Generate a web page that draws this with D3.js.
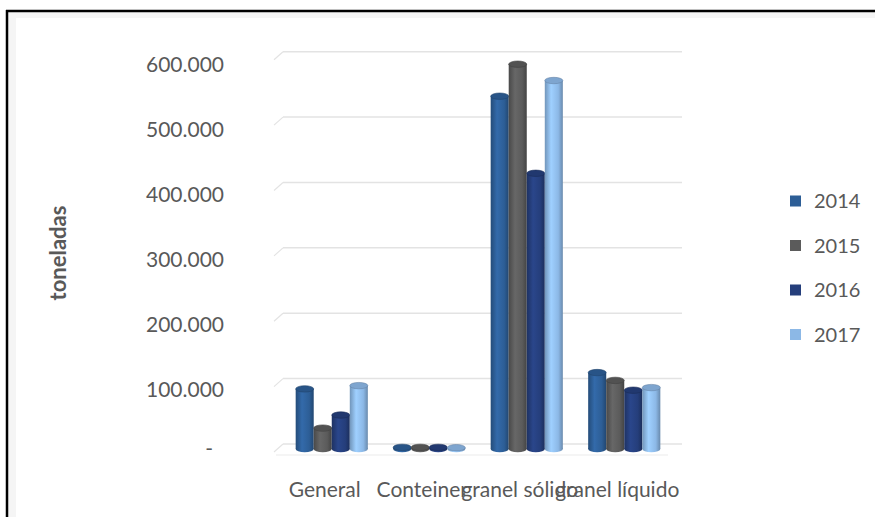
<!DOCTYPE html>
<html>
<head>
<meta charset="utf-8">
<script src="https://cdn.jsdelivr.net/npm/d3@7"></script>
<style>
  body { margin: 0; background: #fff; }
  svg { display: block; font-family: Lato, "Open Sans", sans-serif; }
</style>
</head>
<body>
<div class="canvas"></div>
<script>
const categories = ['General', 'Conteiner', 'granel sólido', 'granel líquido'];
const years = ['2014', '2015', '2016', '2017'];
const values2014 = [92000, 2500, 540000, 117000];
const values2015 = [32000, 2500, 589000, 105000];
const values2016 = [52000, 2500, 422000, 90000];
const values2017 = [97000, 2000, 564000, 94000];
const yTicks = [0, 100000, 200000, 300000, 400000, 500000, 600000];
const yTickLabels = ['-', '100.000', '200.000', '300.000', '400.000', '500.000', '600.000'];

const seriesValues = [values2014, values2015, values2016, values2017];
const colors = ['#2d5e96', '#5b5b5b', '#253e7b', '#8cb8e6'];

const width = 875, height = 517;

const svg = d3.select('.canvas')
  .append('svg')
    .attr('width', width)
    .attr('height', height);

// frame
svg.append('rect').attr('x', 8).attr('y', 12).attr('width', 8).attr('height', height).attr('fill', '#f5f5f5');
svg.append('rect').attr('x', 8).attr('y', 12).attr('width', width).attr('height', 6).attr('fill', '#f5f5f5');
svg.append('line').attr('x1', 6).attr('x2', width).attr('y1', 11).attr('y2', 11)
  .attr('stroke', '#000').attr('stroke-width', 2.5);
svg.append('line').attr('x1', 7).attr('x2', 7).attr('y1', 10).attr('y2', height)
  .attr('stroke', '#000').attr('stroke-width', 2.5);

// scales: back wall (grid), bars, front labels
const yGrid = d3.scaleLinear().domain([0, 600000]).range([444, 51.7]);
const yBar = d3.scaleLinear().domain([0, 600000]).range([449, 57]);
const yLabel = d3.scaleLinear().domain([0, 600000]).range([455, 65]);

const x = d3.scaleBand()
  .domain(categories)
  .range([283, 673])
  .paddingInner(0.26)
  .paddingOuter(0.13);

const x1 = d3.scaleBand()
  .domain(years)
  .range([0, x.bandwidth()]);

// gridlines
const grid = svg.append('g');
yTicks.forEach(t => {
  grid.append('line')
    .attr('x1', 283).attr('x2', 682)
    .attr('y1', yGrid(t)).attr('y2', yGrid(t))
    .attr('stroke', '#e3e3e3').attr('stroke-width', 1.5);
  grid.append('line')
    .attr('x1', 274).attr('x2', 283)
    .attr('y1', yGrid(t) + 8).attr('y2', yGrid(t))
    .attr('stroke', '#e3e3e3').attr('stroke-width', 1.2);
});
// floor front edge
svg.append('line')
  .attr('x1', 276).attr('x2', 668)
  .attr('y1', 455).attr('y2', 455)
  .attr('stroke', '#ececec').attr('stroke-width', 1.2);

// gradients for cylinders
const defs = svg.append('defs');
colors.forEach((c, i) => {
  const g = defs.append('linearGradient')
    .attr('id', 'grad' + i)
    .attr('x1', '0%').attr('x2', '100%').attr('y1', '0%').attr('y2', '0%');
  const base = d3.color(c);
  g.append('stop').attr('offset', '0%').attr('stop-color', base.darker(0.6));
  g.append('stop').attr('offset', '35%').attr('stop-color', base.brighter(0.35));
  g.append('stop').attr('offset', '75%').attr('stop-color', base);
  g.append('stop').attr('offset', '100%').attr('stop-color', base.darker(0.8));
});

const rows = [];
categories.forEach((cat, ci) => {
  years.forEach((yr, si) => {
    rows.push({cat, yr, si, value: seriesValues[si][ci]});
  });
});

const bw = x1.bandwidth();
const ry = 3.2;
const bars = svg.append('g').selectAll('g')
  .data(rows)
  .enter()
  .append('g')
    .attr('transform', d => `translate(${x(d.cat) + x1(d.yr)}, 0)`);

bars.append('ellipse')
  .attr('cx', bw / 2)
  .attr('cy', yBar(0))
  .attr('rx', bw / 2)
  .attr('ry', ry)
  .attr('fill', d => `url(#grad${d.si})`);

bars.append('rect')
  .attr('x', 0)
  .attr('y', d => yBar(d.value))
  .attr('width', bw)
  .attr('height', d => yBar(0) - yBar(d.value))
  .attr('fill', d => `url(#grad${d.si})`);

bars.append('ellipse')
  .attr('cx', bw / 2)
  .attr('cy', d => yBar(d.value))
  .attr('rx', bw / 2)
  .attr('ry', ry)
  .attr('fill', d => d3.color(colors[d.si]).darker(0.3))
  .attr('stroke', d => d3.color(colors[d.si]).darker(0.9))
  .attr('stroke-width', 0.6);

// y tick labels
svg.append('g').selectAll('text')
  .data(yTicks)
  .enter()
  .append('text')
    .attr('x', (d, i) => i === 0 ? 213 : 224)
    .attr('y', (d, i) => i === 0 ? 449 : yLabel(d))
    .attr('dy', '0.35em')
    .attr('text-anchor', 'end')
    .attr('font-size', 21)
    .attr('fill', '#595959')
    .text((d, i) => yTickLabels[i]);

// x category labels
svg.append('g').selectAll('text')
  .data(categories)
  .enter()
  .append('text')
    .attr('x', d => x(d) + x.bandwidth() / 2 - 7)
    .attr('y', 497)
    .attr('text-anchor', 'middle')
    .attr('font-size', 21)
    .attr('fill', '#595959')
    .text(d => d);

// y title
svg.append('text')
  .attr('transform', 'translate(66, 253) rotate(-90)')
  .attr('text-anchor', 'middle')
  .attr('font-size', 22)
  .attr('font-weight', 'bold')
  .attr('fill', '#595959')
  .text('toneladas');

// legend
const legend = svg.append('g').selectAll('g')
  .data(years)
  .enter()
  .append('g')
    .attr('transform', (d, i) => `translate(790, ${201 + i * 44.5})`);

legend.append('rect')
  .attr('x', 0).attr('y', -5.5)
  .attr('width', 11).attr('height', 11)
  .attr('fill', (d, i) => colors[i]);

legend.append('text')
  .attr('x', 24)
  .attr('dy', '0.35em')
  .attr('font-size', 20)
  .attr('fill', '#595959')
  .text(d => d);
</script>
</body>
</html>
